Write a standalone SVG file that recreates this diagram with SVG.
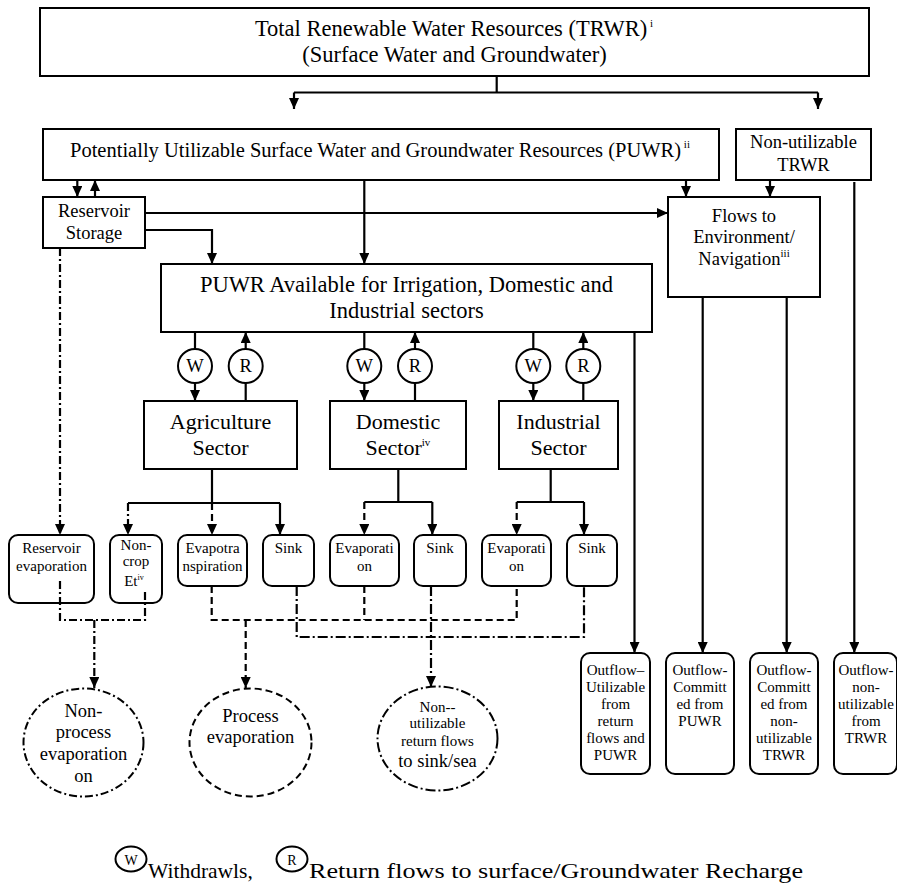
<svg xmlns="http://www.w3.org/2000/svg" width="897" height="884" viewBox="0 0 897 884">
<defs>
<style>
text{font-family:"Liberation Serif","Times New Roman",serif;fill:#000;text-anchor:middle}
.box{fill:#fff;stroke:#000;stroke-width:2}
.rbox{fill:#fff;stroke:#000;stroke-width:2}
.circ{fill:#fff;stroke:#000;stroke-width:2}
.ln{fill:none;stroke:#000;stroke-width:2.2}
.dash{stroke-dasharray:7 4}
.dd{stroke-dasharray:8 3 2 3}
.ddd{stroke-dasharray:10 3 2 3}
.f22{font-size:22.5px}
.f20{font-size:20.5px}
.f18{font-size:18.5px}
.f15{font-size:15px}
.sup{font-size:11px}
</style>
<marker id="ah" viewBox="0 0 11 10" refX="11" refY="5" markerWidth="11" markerHeight="10" markerUnits="userSpaceOnUse" orient="auto"><path d="M0,0 L11,5 L0,10 z" fill="#000"/></marker>
</defs>
<rect width="897" height="884" fill="#fff"/>

<g id="trwr"><rect class="box" x="40" y="8" width="829" height="68"/>
<text class="f22" x="454" y="36">Total Renewable Water Resources (TRWR)<tspan class="sup" dy="-9"> i</tspan></text>
<text class="f22" x="454.5" y="62">(Surface Water and Groundwater)</text></g>

<g id="puwr"><rect class="box" x="43" y="129" width="676" height="51"/>
<text class="f20" x="380" y="157">Potentially Utilizable Surface Water and Groundwater Resources (PUWR)<tspan class="sup" dy="-9"> ii</tspan></text></g>

<g id="nonutil"><rect class="box" x="736" y="129" width="135" height="51"/>
<text class="f18" x="803.5" y="148">Non-utilizable</text>
<text class="f18" x="803.5" y="171">TRWR</text></g>

<g id="reservoir"><rect class="box" x="43" y="197" width="102" height="51"/>
<text class="f18" x="94" y="217">Reservoir</text>
<text class="f18" x="94" y="239">Storage</text></g>

<g id="flows"><rect class="box" x="668" y="197" width="152" height="100"/>
<text class="f18" x="744" y="222">Flows to</text>
<text class="f18" x="744" y="243">Environment/</text>
<text class="f18" x="744" y="265">Navigation<tspan class="sup" dy="-8">iii</tspan></text></g>

<g id="puwravail"><rect class="box" x="161" y="264" width="491" height="68"/>
<text class="f22" x="406.5" y="292">PUWR Available for Irrigation, Domestic and</text>
<text class="f22" x="406.5" y="318">Industrial sectors</text></g>

<g id="agri"><rect class="box" x="144" y="401" width="153" height="68"/>
<text x="220.5" y="429" font-size="22">Agriculture</text>
<text x="220.5" y="455" font-size="22">Sector</text></g>
<g id="dom"><rect class="box" x="330" y="401" width="136" height="68"/>
<text x="398" y="429" font-size="22">Domestic</text>
<text x="398" y="455" font-size="22">Sector<tspan class="sup" dy="-9">iv</tspan></text></g>
<g id="ind"><rect class="box" x="499" y="401" width="119" height="68"/>
<text x="558.5" y="429" font-size="22">Industrial</text>
<text x="558.5" y="455" font-size="22">Sector</text></g>

<g id="wr-circles">
<g id="w-agri"><circle class="circ" cx="195" cy="366" r="17"/><text class="f18" x="195" y="372">W</text></g>
<g id="r-agri"><circle class="circ" cx="245.7" cy="366" r="17"/><text class="f18" x="245.7" y="372">R</text></g>
<g id="w-dom"><circle class="circ" cx="364.3" cy="366" r="17"/><text class="f18" x="364.3" y="372">W</text></g>
<g id="r-dom"><circle class="circ" cx="415" cy="366" r="17"/><text class="f18" x="415" y="372">R</text></g>
<g id="w-ind"><circle class="circ" cx="533.3" cy="366" r="17"/><text class="f18" x="533.3" y="372">W</text></g>
<g id="r-ind"><circle class="circ" cx="583.3" cy="366" r="17"/><text class="f18" x="583.3" y="372">R</text></g>
</g>

<g id="resevap"><rect class="rbox" x="9" y="535" width="85" height="68" rx="9"/>
<text class="f15" x="51.5" y="553">Reservoir</text>
<text class="f15" x="51.5" y="571">evaporation</text></g>
<g id="noncrop"><rect class="rbox" x="110" y="535" width="52" height="68" rx="9"/>
<text class="f15" x="136" y="550">Non-</text>
<text class="f15" x="136" y="566">crop</text>
<text class="f15" x="134" y="586">Et<tspan font-size="8" dy="-6">iv</tspan></text></g>
<g id="evapotr"><rect class="rbox" x="178" y="535" width="69" height="51" rx="9"/>
<text class="f15" x="212.5" y="553">Evapotra</text>
<text class="f15" x="212.5" y="571">nspiration</text></g>
<g id="sink-agri"><rect class="rbox" x="263" y="535" width="51" height="51" rx="9"/>
<text class="f15" x="288.5" y="553">Sink</text></g>
<g id="evap-dom"><rect class="rbox" x="330" y="535" width="69" height="51" rx="9"/>
<text class="f15" x="364.5" y="553">Evaporati</text>
<text class="f15" x="364.5" y="571">on</text></g>
<g id="sink-dom"><rect class="rbox" x="414" y="535" width="52" height="51" rx="9"/>
<text class="f15" x="440" y="553">Sink</text></g>
<g id="evap-ind"><rect class="rbox" x="482" y="535" width="69" height="51" rx="9"/>
<text class="f15" x="516.5" y="553">Evaporati</text>
<text class="f15" x="516.5" y="571">on</text></g>
<g id="sink-ind"><rect class="rbox" x="567" y="535" width="50" height="51" rx="9"/>
<text class="f15" x="592" y="553">Sink</text></g>

<g id="nonprocess"><ellipse class="circ dd" cx="83.5" cy="742.5" rx="60" ry="54"/>
<text class="f18" x="83.5" y="717">Non-</text>
<text class="f18" x="83.5" y="738">process</text>
<text class="f18" x="83.5" y="760">evaporation</text>
<text class="f18" x="83.5" y="782">on</text></g>
<g id="process"><ellipse class="circ dash" cx="250.5" cy="742.5" rx="61" ry="54"/>
<text class="f18" x="250.5" y="722">Process</text>
<text class="f18" x="250.5" y="743">evaporation</text></g>
<g id="nonutilret"><ellipse class="circ ddd" cx="437.5" cy="738.5" rx="60" ry="52"/>
<text class="f15" x="437.5" y="712">Non--</text>
<text class="f15" x="437.5" y="728">utilizable</text>
<text class="f15" x="437.5" y="746">return flows</text>
<text class="f18" x="437.5" y="767">to sink/sea</text></g>

<g id="out1"><rect class="rbox" x="581" y="653" width="69" height="121" rx="9"/>
<text class="f15" x="615.5" y="675">Outflow–</text>
<text class="f15" x="615.5" y="692">Utilizable</text>
<text class="f15" x="615.5" y="709">from</text>
<text class="f15" x="615.5" y="726">return</text>
<text class="f15" x="615.5" y="743">flows and</text>
<text class="f15" x="615.5" y="760">PUWR</text></g>
<g id="out2"><rect class="rbox" x="666" y="653" width="68" height="121" rx="9"/>
<text class="f15" x="700" y="675">Outflow-</text>
<text class="f15" x="700" y="692">Committ</text>
<text class="f15" x="700" y="709">ed from</text>
<text class="f15" x="700" y="726">PUWR</text></g>
<g id="out3"><rect class="rbox" x="750" y="653" width="68" height="121" rx="9"/>
<text class="f15" x="784" y="675">Outflow-</text>
<text class="f15" x="784" y="692">Committ</text>
<text class="f15" x="784" y="709">ed from</text>
<text class="f15" x="784" y="726">non-</text>
<text class="f15" x="784" y="743">utilizable</text>
<text class="f15" x="784" y="760">TRWR</text></g>
<g id="out4"><rect class="rbox" x="834" y="653" width="63" height="121" rx="9"/>
<text class="f15" x="866" y="675">Outflow-</text>
<text class="f15" x="866" y="692">non-</text>
<text class="f15" x="866" y="709">utilizable</text>
<text class="f15" x="866" y="726">from</text>
<text class="f15" x="866" y="743">TRWR</text></g>

<g id="connectors">
<path class="ln" d="M496.7,76 V92.5 M294,92.5 H818"/>
<path class="ln" d="M294,92.5 V109" marker-end="url(#ah)"/>
<path class="ln" d="M818,92.5 V109" marker-end="url(#ah)"/>
<path class="ln" d="M77.3,180 V197" marker-end="url(#ah)"/>
<path class="ln" d="M95,197 V180" marker-end="url(#ah)"/>
<path class="ln" d="M145,213 H668" marker-end="url(#ah)"/>
<path class="ln" d="M145,230 H212 V264" marker-end="url(#ah)"/>
<path class="ln" d="M364.3,180 V264" marker-end="url(#ah)"/>
<path class="ln" d="M686,180 V197" marker-end="url(#ah)"/>
<path class="ln" d="M770,180 V197" marker-end="url(#ah)"/>
<path class="ln" d="M854.3,182 V653" marker-end="url(#ah)"/>
<path class="ln" d="M702.7,298 V653" marker-end="url(#ah)"/>
<path class="ln" d="M786.7,298 V653" marker-end="url(#ah)"/>
<path class="ln" d="M634.5,332 V653" marker-end="url(#ah)"/>
<path class="ln" d="M195,332 V349 M245.7,401 V383 M364.3,332 V349 M415,401 V383 M533.3,332 V349 M583.3,401 V383"/>
<path class="ln" d="M195,383 V401" marker-end="url(#ah)"/>
<path class="ln" d="M245.7,349 V332" marker-end="url(#ah)"/>
<path class="ln" d="M364.3,383 V401" marker-end="url(#ah)"/>
<path class="ln" d="M415,349 V332" marker-end="url(#ah)"/>
<path class="ln" d="M533.3,383 V401" marker-end="url(#ah)"/>
<path class="ln" d="M583.3,349 V332" marker-end="url(#ah)"/>
<path class="ln" d="M212,469 V503 M128,503 H280 M398.3,469 V502 M364.3,502 H432.3 M550.7,469 V502 M516.7,502 H584"/>
<path class="ln dd" d="M128,503 V535" marker-end="url(#ah)"/>
<path class="ln dash" d="M212,503 V535" marker-end="url(#ah)"/>
<path class="ln" d="M280,503 V535" marker-end="url(#ah)"/>
<path class="ln dash" d="M364.3,502 V535" marker-end="url(#ah)"/>
<path class="ln" d="M432.3,502 V535" marker-end="url(#ah)"/>
<path class="ln dash" d="M516.7,502 V535" marker-end="url(#ah)"/>
<path class="ln" d="M584,502 V535" marker-end="url(#ah)"/>
<path class="ln dd" d="M60,248 V535" marker-end="url(#ah)"/>
<path class="ln dd" d="M60,581 V620 H145 V589"/>
<path class="ln dd" d="M94.3,620 V688" marker-end="url(#ah)"/>
<path class="ln dash" d="M211.7,586 V620 H516.7 V586 M364.3,586 V620"/>
<path class="ln dash" d="M245.7,620 V688" marker-end="url(#ah)"/>
<path class="ln ddd" d="M296.7,586 V637 H584 V586"/>
<path class="ln ddd" d="M431,586 V687" marker-end="url(#ah)"/>
</g>

<g id="legend">
<ellipse class="circ" cx="131" cy="859" rx="15.5" ry="12.5" stroke-width="1.5"/>
<text x="131" y="865" font-size="14">W</text>
<text x="148" y="878" font-size="21.5" style="text-anchor:start">Withdrawls,</text>
<ellipse class="circ" cx="292" cy="859" rx="15.5" ry="12.5" stroke-width="1.5"/>
<text x="292" y="865" font-size="14">R</text>
<text x="309" y="878" font-size="22" style="text-anchor:start" textLength="494" lengthAdjust="spacingAndGlyphs">Return flows to surface/Groundwater Recharge</text>
</g>
</svg>
